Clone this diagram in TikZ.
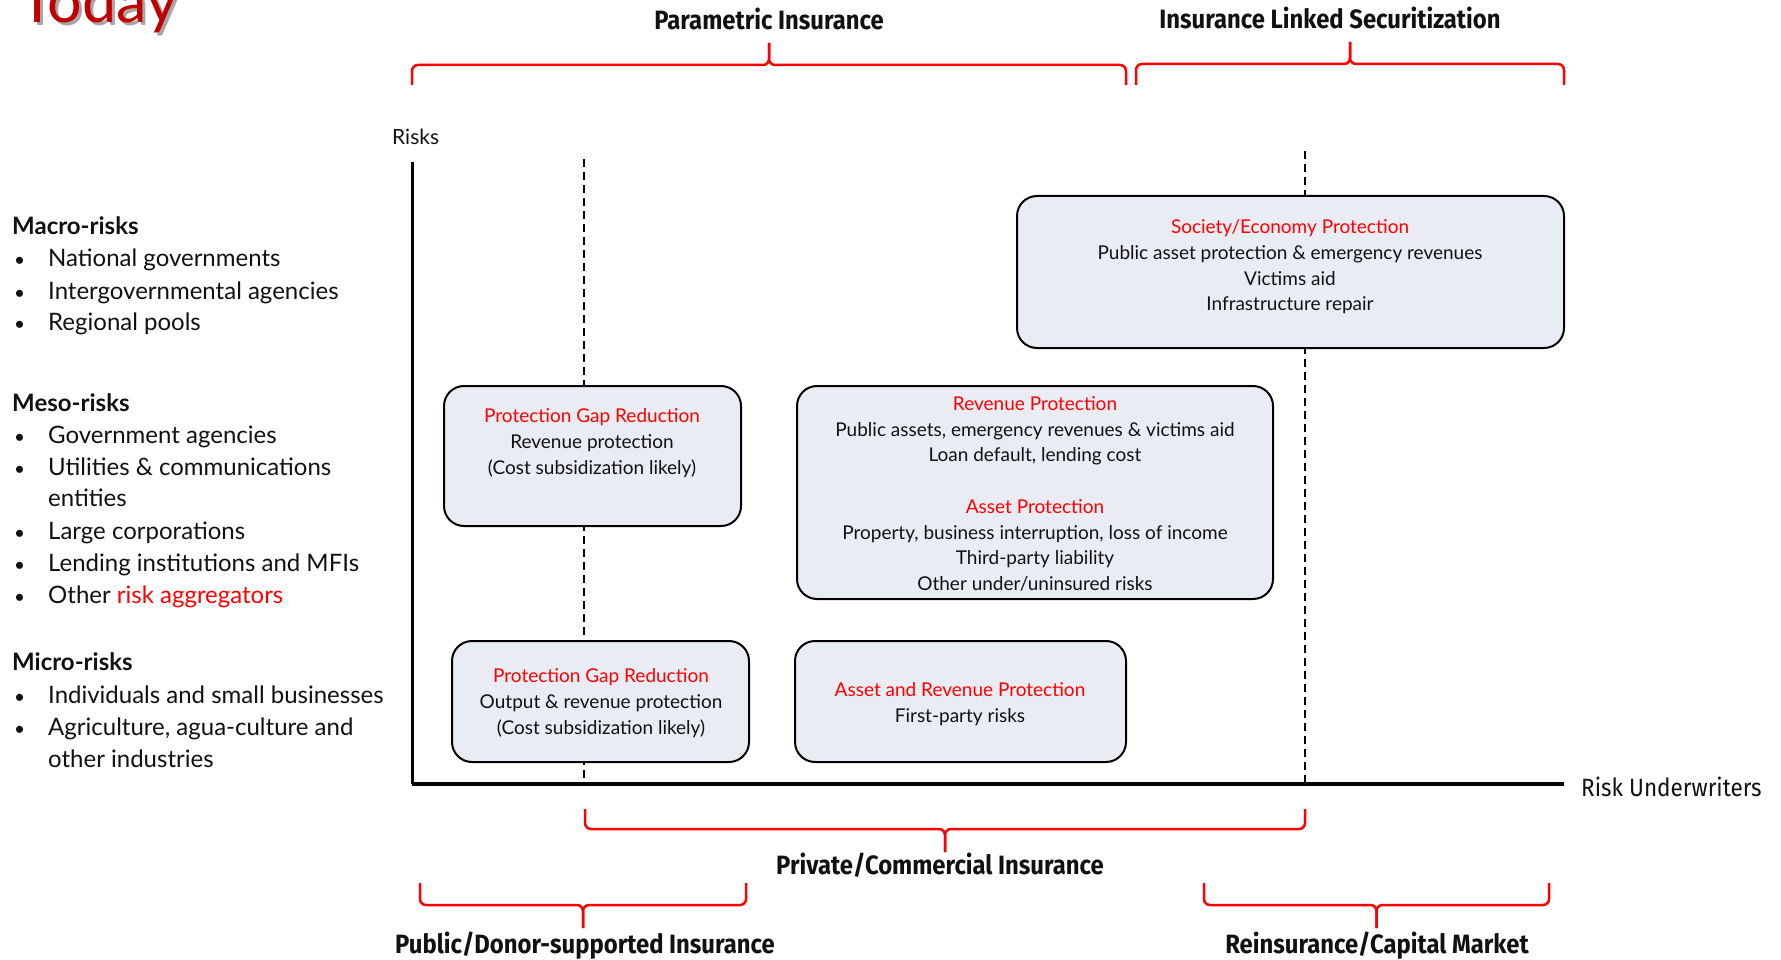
\documentclass[tikz,border=0pt]{standalone}
\usepackage{fontspec}
\setmainfont{Lato}
\newfontfamily\hdr[FakeStretch=0.9]{Fira Sans}
\newfontfamily\cnd[FakeStretch=0.9]{Fira Sans}
\definecolor{myred}{HTML}{FF0000}
\definecolor{todayred}{HTML}{C00000}
\definecolor{boxfill}{HTML}{E9EDF3}
\definecolor{txt}{HTML}{111111}
\newcommand{\mybrace}[5]{%
  \draw[bracestyle] (#1,#3) |- ({(#1+#2)/2},#4) -- ({(#1+#2)/2},#5);
  \draw[bracestyle] (#2,#3) |- ({(#1+#2)/2},#4) -- ({(#1+#2)/2},#5);}
\begin{document}
\begin{tikzpicture}[x=1pt,y=-1pt,
  bracestyle/.style={draw=myred, line width=2.5pt, rounded corners=6pt},
  boxstyle/.style={draw=black, line width=2pt, fill=boxfill, rounded corners=20pt, inner sep=0pt},
  bt/.style={align=center, text=txt, font=\fontsize{19}{25.7}\selectfont},
  lt/.style={anchor=west, text=txt, font=\fontsize{24}{28}\selectfont, text height=17pt, text depth=5pt, inner sep=0pt},
  lh/.style={lt, font=\fontsize{24}{28}\selectfont\bfseries},
  bul/.style={lt, font=\fontsize{19}{28}\selectfont},
  hd/.style={text=txt, font=\fontsize{26.5}{30}\hdr\bfseries, inner sep=0pt},
  dashline/.style={draw=black, line width=1.5pt, dash pattern=on 8pt off 5pt}
]
\useasboundingbox (0,0) rectangle (1781,960);

% Today
\node[anchor=base west, inner sep=0pt, text=black!35, font=\fontsize{61}{61}\selectfont] (todaysh) at (22,26) {Today};
\node[anchor=base west, inner sep=0pt, text=todayred, font=\fontsize{61}{61}\selectfont] (today) at (19,23) {Today};

% coordinates
\coordinate (O) at (412,784);
\coordinate (ytop) at (412,162);
\coordinate (xend) at (1564,784);
\coordinate (d1t) at (584,159);
\coordinate (d1b) at (584,784);
\coordinate (d2t) at (1305,151);
\coordinate (d2b) at (1305,784);

% dashed lines
\draw[dashline] (d1t) -- (d1b);
\draw[dashline] (d2t) -- (d2b);

% axes
\draw[line width=3pt] (ytop) -- (O);
\draw[line width=4.5pt] (O) -- (xend);
\node[anchor=west, text=txt, font=\fontsize{21}{24}\selectfont, inner sep=0pt] (risks) at (392,137) {Risks};
\node[anchor=west, text=txt, font=\fontsize{25}{28}\cnd, inner sep=0pt] (ru) at (1581,787) {Risk Underwriters};

% boxes
\node[boxstyle, minimum width=547pt, minimum height=152pt] (b1) at (1290.5,272) {};
\node[boxstyle, minimum width=297pt, minimum height=140pt] (b2) at (592.5,456) {};
\node[boxstyle, minimum width=476pt, minimum height=213pt] (b3) at (1035,492.5) {};
\node[boxstyle, minimum width=297pt, minimum height=121pt] (b4) at (600.5,701.5) {};
\node[boxstyle, minimum width=331pt, minimum height=121pt] (b5) at (960.5,701.5) {};

\node[bt] (t1) at (1290,267) {{\color{myred}Society/Economy Protection}\\Public asset protection \& emergency revenues\\Victims aid\\Infrastructure repair};
\node[bt] (t2) at (592,443) {{\color{myred}Protection Gap Reduction}\\Revenue protection\\(Cost subsidization likely)};
\node[bt] (t3) at (1035,494) {{\color{myred}Revenue Protection}\\Public assets, emergency revenues \& victims aid\\Loan default, lending cost\\[25.7pt]{\color{myred}Asset Protection}\\Property, business interruption, loss of income\\Third-party liability\\Other under/uninsured risks};
\node[bt] (t4) at (601,703) {{\color{myred}Protection Gap Reduction}\\Output \& revenue protection\\(Cost subsidization likely)};
\node[bt] (t5) at (960,704) {{\color{myred}Asset and Revenue Protection}\\First-party risks};

% braces
\mybrace{412}{1126}{85}{65}{43}
\mybrace{1136}{1564}{85}{64}{42}
\mybrace{585}{1305}{809}{829}{852}
\mybrace{420}{746}{883}{905}{928}
\mybrace{1204}{1549}{883}{905}{928}

\node[hd] (h1) at (769,19) {Parametric Insurance};
\node[hd] (h2) at (1330,18) {Insurance Linked Securitization};
\node[hd] (h3) at (940,865) {Private/Commercial Insurance};
\node[hd] (h4) at (585,946) {Public/Donor-supported Insurance};
\node[hd] (h5) at (1377,946) {Reinsurance/Capital Market};

% left column
\node[lh] (l1) at (12,229) {Macro-risks};
\node[bul] (b01) at (14,261) {•}; \node[lt] (l2) at (48,261) {National governments};
\node[bul] (b02) at (14,293) {•}; \node[lt] (l3) at (48,293) {Intergovernmental agencies};
\node[bul] (b03) at (14,324) {•}; \node[lt] (l4) at (48,324) {Regional pools};
\node[lh] (l5) at (12,405) {Meso-risks};
\node[bul] (b04) at (14,437) {•}; \node[lt] (l6) at (48,437) {Government agencies};
\node[bul] (b05) at (14,469) {•}; \node[lt] (l7) at (48,469) {Utilities \& communications};
\node[lt] (l8) at (48,500) {entities};
\node[bul] (b06) at (14,533) {•}; \node[lt] (l9) at (48,533) {Large corporations};
\node[bul] (b07) at (14,565) {•}; \node[lt] (l10) at (48,565) {Lending institutions and MFIs};
\node[bul] (b08) at (14,597) {•}; \node[lt] (l11) at (48,597) {Other {\color{myred}risk aggregators}};
\node[lh] (l12) at (12,664) {Micro-risks};
\node[bul] (b09) at (14,697) {•}; \node[lt] (l13) at (48,697) {Individuals and small businesses};
\node[bul] (b10) at (14,729) {•}; \node[lt] (l14) at (48,729) {Agriculture, agua-culture and};
\node[lt] (l15) at (48,761) {other industries};
\end{tikzpicture}
\end{document}
